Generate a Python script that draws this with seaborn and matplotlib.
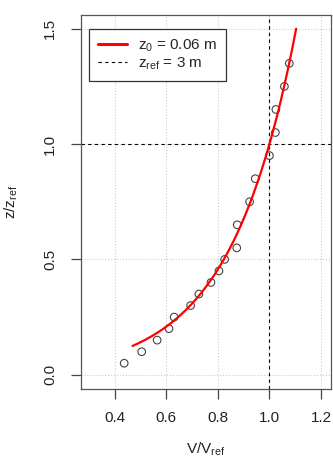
# Wind profile: measured points vs. log law
import numpy as np
import pandas as pd
import matplotlib
matplotlib.use('Agg')
import matplotlib.pyplot as plt
import seaborn as sns
from matplotlib.lines import Line2D

# ────────────────────────────────────────────────────────
# data
v_obs = [0.436, 0.504, 0.564, 0.610, 0.630, 0.694, 0.726, 0.773, 0.804, 0.826,
         0.873, 0.875, 0.923, 0.945, 1.000, 1.023, 1.025, 1.058, 1.077]
z_obs = [0.05, 0.10, 0.15, 0.20, 0.25, 0.30, 0.35, 0.40, 0.45, 0.50,
         0.55, 0.65, 0.75, 0.85, 0.95, 1.05, 1.15, 1.25, 1.35]

# log law parameters (from the legend)
z0 = 0.06
zref = 3.0
z_curve = np.linspace(0.125, 1.5, 200)          # z/zref
v_curve = np.log(z_curve * zref / z0) / np.log(zref / z0)

df_obs = pd.DataFrame({'V': v_obs, 'z': z_obs})
df_fit = pd.DataFrame({'V': v_curve, 'z': z_curve})

x_ticks = [0.4, 0.6, 0.8, 1.0, 1.2]
y_ticks = [0.0, 0.5, 1.0, 1.5]

# ────────────────────────────────────────────────────────
sns.set_style('ticks')
plt.rcParams['font.family'] = ['Liberation Sans', 'DejaVu Sans']
plt.rcParams['mathtext.default'] = 'regular'

fig = plt.figure(figsize=(3.33, 4.58), dpi=100)
ax = fig.add_axes([0.243, 0.151, 0.751, 0.816])

ax.grid(True, color='#cccccc', linestyle=':', linewidth=0.8)
ax.set_axisbelow(True)

ax.axvline(1.0, color='black', linestyle='--', linewidth=0.8, dashes=(3, 3))
ax.axhline(1.0, color='black', linestyle='--', linewidth=0.8, dashes=(3, 3))

sns.lineplot(data=df_fit, x='V', y='z', sort=False, color='#ff0000',
             linewidth=1.6, ax=ax, estimator=None)
sns.scatterplot(data=df_obs, x='V', y='z', ax=ax, marker='o', s=30,
                facecolor='none', edgecolor='#444444', linewidth=0.8)

ax.set_xlim(0.268, 1.239)
ax.set_ylim(-0.061, 1.559)
ax.set_xticks(x_ticks)
ax.set_yticks(y_ticks)
ax.set_xticklabels([f'{t:.1f}' for t in x_ticks])
ax.set_yticklabels([f'{t:.1f}' for t in y_ticks], rotation=90, va='center')
ax.tick_params(length=7, width=0.9, color='#444444', labelsize=11,
               labelcolor='#222222')
ax.tick_params(axis='x', pad=9)
ax.tick_params(axis='y', pad=10)

for sp in ax.spines.values():
    sp.set_visible(True)
    sp.set_color('#555555')
    sp.set_linewidth(0.9)

ax.set_xlabel('V/V$_{ref}$', fontsize=11, color='#222222', labelpad=11)
ax.set_ylabel('z/z$_{ref}$', fontsize=11, color='#222222', labelpad=17)

handles = [Line2D([], [], color='#ff0000', linewidth=2.2),
           Line2D([], [], color='black', linestyle='--', linewidth=0.8, dashes=(3, 3))]
leg = ax.legend(handles, ['z$_0$ = 0.06 m', 'z$_{ref}$ = 3 m'], loc='upper left',
                bbox_to_anchor=(0.033, 0.964), borderaxespad=0, fontsize=11,
                fancybox=False, framealpha=1, edgecolor='#333333',
                handlelength=1.9, handletextpad=0.7, labelspacing=0.1,
                borderpad=0.6)
leg.get_frame().set_linewidth(0.9)

fig.savefig('out.png', dpi=100)
